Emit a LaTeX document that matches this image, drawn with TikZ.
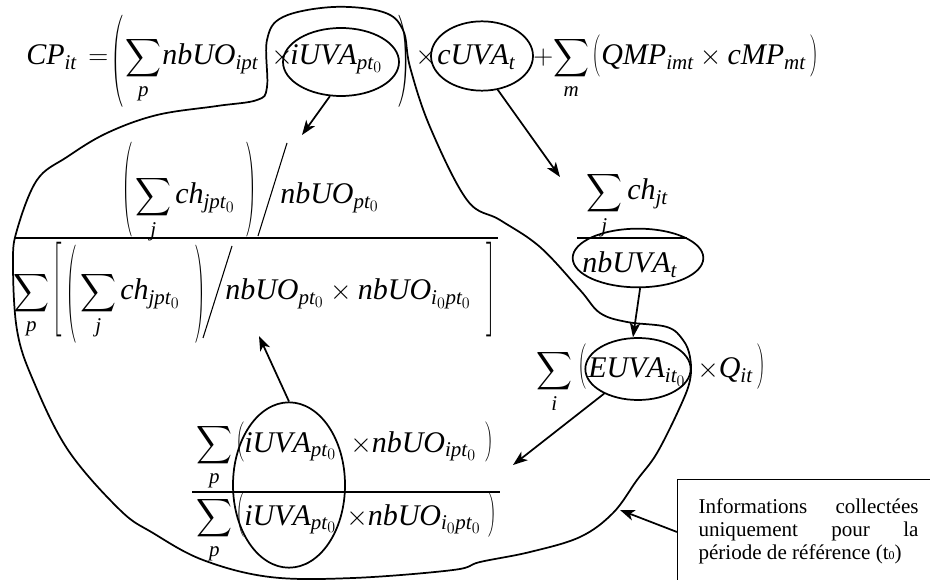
\documentclass[tikz,border=0pt]{standalone}
\usepackage{amsmath}
\usepackage{amssymb}
\usepackage{exscale}
\usepackage{graphicx}
\usepackage{fontspec}
\setmainfont{Liberation Serif}
\DeclareSymbolFont{letters}{TU}{\rmdefault}{m}{it}
\DeclareMathSizes{22.5}{22.5}{15.75}{11.5}
\usepackage{tikz}
\usetikzlibrary{arrows.meta,shapes.geometric}

\newcommand\fence[3]{\resizebox*{#3}{#2}{$\Bigg#1$}}
\newcommand\bigsum{\mathop{\vcenter{\hbox{\resizebox*{27pt}{32pt}{$\displaystyle\sum$}}}}\limits}

\begin{document}
\begin{tikzpicture}[x=0.75pt, y=-0.75pt,
    every node/.style={inner sep=0pt, font=\fontsize{22.5}{27}\selectfont},
    term/.style={anchor=base west},
    ring/.style={draw, ellipse, line width=1.3pt},
    pointer/.style={line width=1.3pt, -{Stealth[length=11pt,width=8pt,inset=3pt]}},
    bar/.style={line width=0.8pt}]
            \useasboundingbox (0,0) rectangle (930,580);
            \clip (0,0) rectangle (930,580);

            % ligne du haut
            \node[term] (cp) at (26,65) {$CP_{it}$};
            \node[term] (eq) at (88,65) {$=$};
            \node (lp1) at (117,61) {\fence{(}{69pt}{9pt}};
            \node[term] (sp1) at (125,65) {$\bigsum_p$};
            \node[term] (nu0) at (162,65) {$nbUO_{ipt}$};
            \node[term] (x1) at (271,65) {$\times$};
            \node[term] (iu1) at (290,65) {$iUVA_{pt_0}$};
            \node (rp1) at (404,61) {\fence{)}{69pt}{9pt}};
            \node[term] (x2) at (415,65) {$\times$};
            \node[term] (cu) at (437,65) {$cUVA_t$};
            \node[term] (pl) at (533,65) {$+$};
            \node[term] (sm) at (553,65) {$\bigsum_m$};
            \node (lq) at (596,56) {\fence{(}{31.5pt}{6pt}};
            \node[term] (qm) at (601,65) {$QMP_{imt}\times cMP_{mt}$};
            \node (rq) at (814,56) {\fence{)}{31.5pt}{6pt}};

            % grande fraction
            \node (lp2) at (127,190) {\fence{(}{71pt}{7.5pt}};
            \node[term] (sj1) at (135,204) {$\bigsum_j$};
            \node[term] (ch1) at (175,204) {$ch_{jpt_0}$};
            \node (rp2) at (251,190) {\fence{)}{71pt}{7.5pt}};
            \node[term] (nu1) at (280,204) {$nbUO_{pt_0}$};
            \draw[bar] (287,143) -- (258,236);
            \draw[bar] (15,238) -- (498,238);

            \node[term] (sp2) at (13,300) {$\bigsum_p$};
            \node (lb) at (57,290) {\fence{[}{71pt}{7pt}};
            \node (lp3) at (71,294) {\fence{(}{73.5pt}{7.5pt}};
            \node[term] (sj2) at (80,300) {$\bigsum_j$};
            \node[term] (ch2) at (120,300) {$ch_{jpt_0}$};
            \node (rp3) at (200,294) {\fence{)}{73.5pt}{7.5pt}};
            \draw[bar] (232,246) -- (203,338);
            \node[term] (nu2) at (225,300) {$nbUO_{pt_0}\times nbUO_{i_0pt_0}$};
            \node (rb) at (491,290) {\fence{]}{71pt}{7pt}};

            % ch / nbUVA
            \node[term] (sj3) at (586,200) {$\bigsum_j$};
            \node[term] (ch3) at (627,200) {$ch_{jt}$};
            \draw[bar] (577,238) -- (687,238);
            \node[term] (nv) at (582,273) {$nbUVA_t$};

            % somme sur i
            \node[term] (si) at (536,378) {$\bigsum_i$};
            \node (lp4) at (582,367) {\fence{(}{34pt}{6pt}};
            \node[term] (eu) at (588,378) {$EUVA_{it_0}$};
            \node[term] (xq) at (697,378) {$\times Q_{it}$};
            \node (rp4) at (761,367) {\fence{)}{34pt}{6pt}};

            % fraction du bas
            \node[term] (sp3) at (196,452) {$\bigsum_p$};
            \node (lp5) at (240,442) {\fence{(}{30pt}{6pt}};
            \node[term] (iu2) at (244,452) {$iUVA_{pt_0}$};
            \node[term] (nu3) at (350,452) {$\times nbUO_{ipt_0}$};
            \node (rp5) at (489,442) {\fence{)}{30pt}{6pt}};
            \draw[bar] (192,492) -- (500,492);
            \node[term] (sp4) at (196,525) {$\bigsum_p$};
            \node (lp6) at (240,515) {\fence{(}{34pt}{6pt}};
            \node[term] (iu3) at (244,525) {$iUVA_{pt_0}$};
            \node[term] (nu4) at (346,525) {$\times nbUO_{i_0pt_0}$};
            \node (rp6) at (492,515) {\fence{)}{34pt}{6pt}};

            % ellipses
            \node[ring, minimum width=87pt, minimum height=51pt] (e1) at (341,62) {};
            \node[ring, minimum width=76.5pt, minimum height=52pt] (e2) at (482,56) {};
            \node[ring, minimum width=98pt, minimum height=44pt] (e3) at (638,258) {};
            \node[ring, minimum width=79pt, minimum height=46.5pt] (e4) at (638,369) {};
            \node[ring, minimum width=84pt, minimum height=124pt] (e5) at (289,485) {};

            % periode de reference
            \draw[line width=1.3pt] plot[smooth cycle, tension=0.6] coordinates {
                (267,87) (267,40) (283,17) (333,7) (383,12) (403,30) (410,67)
                (430,127) (467,200) (500,220) (540,247) (580,290) (600,313)
                (627,322) (667,327) (683,340) (690,357) (690,380) (680,407)
                (657,453) (637,480) (613,513) (580,537) (530,552) (480,562)
                (453,570) (353,578) (270,577) (203,560) (153,533) (120,510)
                (68,450) (33,380) (17,330) (13,263) (17,230) (37,180) (67,157)
                (107,133) (157,115) (217,106) (257,100)};

            \node[draw, line width=0.8pt, anchor=north west, text width=165pt,
                inner xsep=15.75pt, inner ysep=14pt, text depth=60pt, align=justify] (info) at (677,479)
                {\fontsize{15.8}{17.6}\selectfont
                Informations collectées\linebreak uniquement pour la\linebreak
                \mbox{période de référence (t{\fontsize{9}{9}\selectfont 0})}\par};

            % fleches
            \coordinate (a1) at (302,135);
            \coordinate (a2) at (560,177);
            \coordinate (a4) at (513,465);
            \coordinate (a5) at (259,336);
            \coordinate (a6) at (620,510);
            \draw[pointer] (e1.252) -- (a1);
            \draw[pointer] (e2.295) -- (a2);
            \draw[pointer] (e3.274) -- (e4.99);
            \draw[pointer] (e4.216) -- (a4);
            \draw[pointer] (e5.north) -- (a5);
            \draw[pointer] ([yshift=-39.75pt]info.north west) -- (a6);
        \end{tikzpicture}
\end{document}
